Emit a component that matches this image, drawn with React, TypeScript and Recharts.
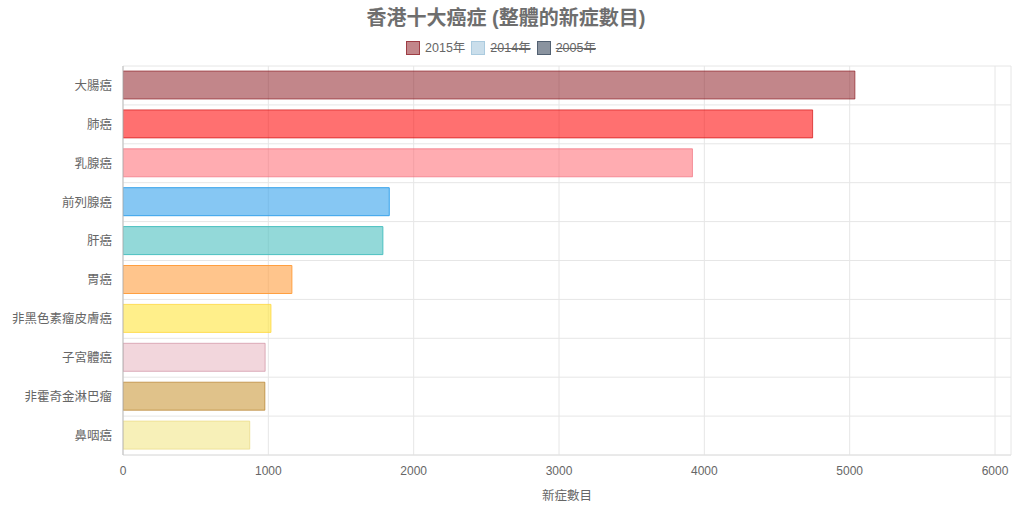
import { BarChart, Bar, Cell, XAxis, YAxis, CartesianGrid, Label } from 'recharts';

const categories = ['大腸癌', '肺癌', '乳腺癌', '前列腺癌', '肝癌', '胃癌', '非黑色素瘤皮膚癌', '子宮體癌', '非霍奇金淋巴瘤', '鼻咽癌'];
const cases2015 = [5036, 4745, 3918, 1832, 1788, 1162, 1018, 978, 976, 872];
const xTicks = [0, 1000, 2000, 3000, 4000, 5000, 6000];
const seriesNames = ['2015年', '2014年', '2005年'];
const seriesHidden = [false, true, true];

const FILLS = [
  'rgba(133,13,21,0.5)',
  'rgba(255,0,0,0.56)',
  'rgba(255,90,100,0.5)',
  'rgba(54,162,235,0.6)',
  'rgba(75,192,192,0.6)',
  'rgba(255,159,64,0.6)',
  'rgba(255,228,60,0.6)',
  'rgba(215,130,150,0.33)',
  'rgba(193,133,21,0.5)',
  'rgba(230,210,40,0.33)',
];
const BORDERS = [
  'rgba(133,13,21,0.6)',
  'rgba(210,20,20,0.7)',
  'rgba(240,110,125,0.7)',
  'rgb(54,162,235)',
  'rgb(75,192,192)',
  'rgb(255,159,64)',
  'rgba(255,215,60,0.8)',
  'rgba(200,130,150,0.6)',
  'rgba(180,125,40,0.7)',
  'rgba(235,220,140,0.8)',
];
const LEGEND_FILLS = ['rgba(133,13,21,0.5)', 'rgba(150,190,215,0.5)', 'rgba(60,75,95,0.6)'];
const LEGEND_BORDERS = ['rgba(133,13,21,0.6)', 'rgba(150,190,215,0.6)', 'rgba(60,75,95,0.7)'];

const FONT = '"Liberation Sans", "Noto Sans CJK TC", Arial, sans-serif';

const rows = categories.map((name, i) => ({ name, v2015: cases2015[i] }));

// lines between the category bands, like the original's offset gridlines
const bandLines = ({ offset }: any) => {
  const top = offset?.top ?? 66;
  const h = offset?.height ?? 389;
  return categories.map((_c, i) => top + (i * h) / categories.length).concat(top + h);
};

export default function App() {
  return (
    <div style={{ position: 'absolute', left: 0, top: 0, width: 1024, height: 505, fontFamily: FONT, background: '#fff' }}>
      <div style={{ position: 'absolute', left: 0, top: 5, width: 1012, textAlign: 'center', fontSize: 20, fontWeight: 'bold', color: '#6e6e6e', lineHeight: '26px' }}>
        香港十大癌症 (整體的新症數目)
      </div>
      <div style={{ position: 'absolute', left: 0, top: 40, width: 1008, display: 'flex', justifyContent: 'center', fontSize: 12.5, color: '#666', lineHeight: '16px' }}>
        {seriesNames.map((s, i) => (
          <div key={s} style={{ display: 'flex', alignItems: 'center', marginRight: 6 }}>
            <span style={{ display: 'inline-block', width: 12, height: 12, background: LEGEND_FILLS[i], border: `1px solid ${LEGEND_BORDERS[i]}`, marginRight: 5 }} />
            <span style={{ textDecoration: seriesHidden[i] ? 'line-through' : 'none' }}>{s}</span>
          </div>
        ))}
      </div>
      <BarChart
        width={1024}
        height={505}
        layout="vertical"
        data={rows}
        margin={{ top: 66, right: 13, bottom: 0, left: 0 }}
        style={{ fontFamily: FONT }}
      >
        <CartesianGrid stroke="#e6e6e6" horizontalCoordinatesGenerator={bandLines} />
        <XAxis
          type="number"
          domain={[0, 6110]}
          ticks={xTicks}
          height={50}
          axisLine={{ stroke: '#e0e0e0' }}
          tickLine={false}
          tickMargin={5}
          tick={{ fill: '#666', fontSize: 12 }}
          allowDataOverflow
        >
          <Label value="新症數目" position="insideBottom" offset={5} fill="#666" fontSize={12.5} />
        </XAxis>
        <YAxis
          type="category"
          dataKey="name"
          width={123}
          axisLine={{ stroke: '#bdbdbd' }}
          tickLine={false}
          tickMargin={5}
          tick={{ fill: '#666', fontSize: 12.5 }}
          interval={0}
        />
        <Bar dataKey="v2015" name="2015年" barSize={28} isAnimationActive={false}>
          {rows.map((r, i) => (
            <Cell key={r.name} fill={FILLS[i]} stroke={BORDERS[i]} strokeWidth={1} />
          ))}
        </Bar>
      </BarChart>
    </div>
  );
}
